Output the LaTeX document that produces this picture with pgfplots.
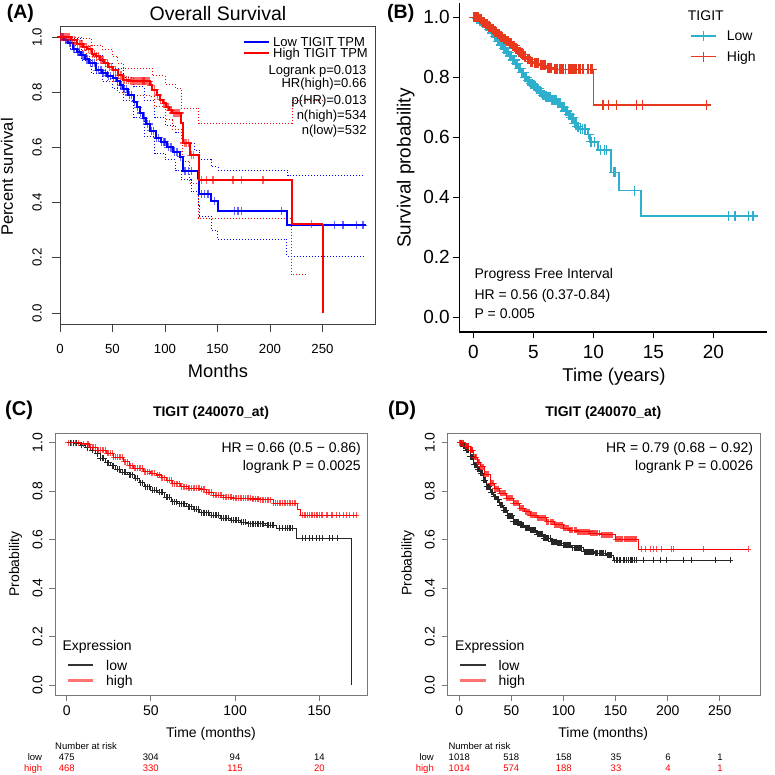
\documentclass[border=0pt]{standalone}
\usepackage{fontspec}
\setmainfont{Liberation Sans}
\usepackage{pgfplots}
\pgfplotsset{compat=1.18}
\newcommand{\fs}[1]{\fontsize{#1}{#1}\selectfont}
\definecolor{gBlue}{RGB}{0,0,255}
\definecolor{gRed}{RGB}{255,0,0}
\definecolor{tcyan}{RGB}{45,176,205}
\definecolor{tred}{RGB}{232,56,30}
\definecolor{boxgray}{RGB}{120,120,120}
\pgfplotsset{
  kmblack/.style={only marks, mark=+, mark size=3pt, black!85, mark options={line width=0.8pt}},
  kmred/.style={only marks, mark=+, mark size=3pt, gRed, mark options={line width=0.8pt, opacity=0.7}},
  tcgaLow/.style={only marks, mark=+, mark size=5pt, tcyan, mark options={line width=1.2pt}},
  tcgaHigh/.style={only marks, mark=+, mark size=5pt, tred, mark options={line width=1.2pt}},
}
\begin{document}
\begin{tikzpicture}
\useasboundingbox (0,0) rectangle (775pt,774pt);

% ---------------- (A) GEPIA overall survival
\begin{axis}[
  at={(60pt,450pt)}, anchor=south west, scale only axis,
  width=315pt, height=298pt,
  xmin=0, xmax=300, ymin=-0.04, ymax=1.04,
  xtick={0,50,100,150,200,250}, xticklabels={0,50,100,150,200,250},
  ytick={0,0.2,0.4,0.6,0.8,1}, yticklabels={0.0,0.2,0.4,0.6,0.8,1.0},
  tick pos=left, tick align=outside, major tick length=8pt,
  axis line style={black!75, line width=0.9pt},
  tick style={black!75, line width=0.9pt},
  ticklabel style={font=\fs{13.2}, inner sep=0pt},
  xticklabel style={anchor=north}, xticklabel shift=12pt,
  yticklabel style={rotate=90, anchor=south}, yticklabel shift=10pt,
]
% confidence bands
\addplot[const plot, gBlue, line width=0.8pt, dash pattern=on 1pt off 2pt] coordinates {
(0,1.0)(10,0.995)(20,0.965)(30,0.935)(40,0.905)(50,0.885)(60,0.855)(70,0.82)(80,0.77)(90,0.71)
(100,0.68)(110,0.655)(117,0.616)(128,0.59)(133,0.555)(144,0.53)(150.5,0.517)(217,0.497)(290,0.497)};
\addplot[const plot, gBlue, line width=0.8pt, dash pattern=on 1pt off 2pt] coordinates {
(0,1.0)(10,0.955)(20,0.915)(30,0.87)(40,0.84)(50,0.815)(60,0.77)(70,0.71)(80,0.64)(90,0.58)
(100,0.555)(110,0.515)(115.6,0.483)(125,0.44)(132,0.39)(133,0.35)(144,0.30)(149.5,0.268)(216,0.205)(290,0.205)};
\addplot[const plot, gRed, line width=0.8pt, dash pattern=on 1pt off 2pt] coordinates {
(0,1.0)(20,0.995)(30,0.97)(40,0.955)(50,0.93)(55,0.905)(60,0.888)(82,0.888)(88,0.86)(100,0.83)
(110,0.815)(115.6,0.743)(132,0.686)(221,0.77)(250,0.77)};
\addplot[const plot, gRed, line width=0.8pt, dash pattern=on 1pt off 2pt] coordinates {
(0,1.0)(15,0.95)(25,0.93)(35,0.88)(45,0.84)(55,0.80)(65,0.79)(85,0.785)(90,0.75)(100,0.70)
(107,0.665)(115.6,0.63)(117,0.55)(123.5,0.471)(131.4,0.344)(220.3,0.139)(234.6,0.139)};
% survival curves
\addplot[const plot, gBlue, line width=2pt] coordinates {
(0,1.0)(4,0.99)(8,0.98)(12,0.955)(16,0.945)(20,0.935)(24,0.92)(28,0.905)(34,0.88)(40,0.87)
(45,0.86)(50,0.85)(54,0.84)(57,0.825)(60,0.81)(65,0.79)(70,0.765)(73,0.745)(76,0.725)(79,0.705)
(82,0.685)(86,0.66)(91,0.635)(96,0.62)(102,0.60)(108,0.585)(114,0.567)(117,0.513)(131.5,0.489)
(132.5,0.43)(144,0.404)(150.5,0.371)(216.5,0.318)(291,0.318)};
\addplot[only marks, mark=+, mark size=4pt, gBlue, mark options={line width=1.2pt, opacity=0.6}] coordinates {
(1,1)(2,1)(3,1)(5,0.99)(6,0.99)(9,0.98)(10,0.98)(13,0.955)(14,0.955)(17,0.945)(18,0.945)(21,0.935)
(22,0.935)(25,0.92)(26,0.92)(29,0.905)(31,0.905)(33,0.905)(35,0.88)(37,0.88)(39,0.88)(41,0.87)
(43,0.87)(46,0.86)(48,0.86)(51,0.85)(53,0.85)(55,0.84)(58,0.825)(61,0.81)(63,0.81)(66,0.79)
(68,0.79)(71,0.765)(74,0.745)(77,0.725)(80,0.705)(83,0.685)(85,0.685)(87,0.66)(89,0.66)(92,0.635)
(94,0.635)(97,0.62)(99,0.62)(100,0.62)(103,0.60)(105,0.60)(106,0.60)(109,0.585)(111,0.585)
(112,0.585)(115,0.567)(119,0.513)(122,0.513)(125,0.513)(134.7,0.43)(137.8,0.43)(141,0.43)
(147.3,0.404)(166.4,0.371)(169.5,0.371)(172.7,0.371)(210.8,0.371)(261.6,0.318)(269.5,0.318)
(282.3,0.318)(288.6,0.318)};
\addplot[const plot, gRed, line width=2pt] coordinates {
(0,1.0)(10,0.99)(16,0.975)(22,0.965)(26,0.955)(30,0.94)(34,0.93)(38,0.918)(42,0.905)(46,0.893)
(50,0.881)(55,0.862)(60,0.845)(66,0.84)(86,0.825)(88,0.809)(92,0.79)(95,0.773)(98,0.76)(101,0.745)
(104,0.735)(107,0.725)(115.5,0.688)(117,0.616)(123.5,0.571)(132,0.483)(221,0.322)(250,0.322)};
\addplot[gRed, line width=2pt] coordinates {(250,0.322)(250,0)};
\addplot[only marks, mark=+, mark size=4pt, gRed, mark options={line width=1.2pt, opacity=0.6}] coordinates {
(0.5,1)(1,1)(2,1)(3,1)(4,1)(5,1)(6,1)(7,1)(8,1)(9,1)(11,0.99)(12,0.99)(14,0.99)(17,0.975)
(19,0.975)(21,0.975)(23,0.965)(25,0.965)(27,0.955)(29,0.955)(31,0.94)(33,0.94)(35,0.93)(37,0.93)
(39,0.918)(41,0.918)(43,0.905)(45,0.905)(47,0.893)(49,0.893)(51,0.881)(53,0.881)(56,0.862)
(58,0.862)(61,0.845)(63,0.845)(65,0.845)(67,0.84)(68,0.84)(69,0.84)(70,0.84)(71,0.84)(72,0.84)
(73,0.84)(74,0.84)(75,0.84)(76,0.84)(77,0.84)(78,0.84)(79,0.84)(80,0.84)(81,0.84)(82,0.84)
(83,0.84)(84,0.84)(85,0.84)(87,0.825)(90,0.809)(93,0.79)(96,0.773)(99,0.76)(102,0.745)(103,0.745)
(105,0.735)(106,0.735)(108,0.725)(109,0.725)(110,0.725)(111,0.725)(112,0.725)(113,0.725)
(114,0.725)(118.5,0.616)(120,0.616)(122,0.616)(125,0.571)(127,0.571)(134.7,0.483)(139.4,0.483)
(145.7,0.483)(164.8,0.483)(172.8,0.483)(193.3,0.483)(239.4,0.322)};
\end{axis}

% ---------------- (B) progress free interval
\begin{axis}[
  at={(459.3pt,442pt)}, anchor=south west, scale only axis,
  width=307.7pt, height=328.7pt,
  xmin=-1.17, xmax=24.47, ymin=-0.049, ymax=1.047,
  axis x line*=bottom, axis y line*=left,
  xtick={0,5,10,15,20}, xticklabels={0,5,10,15,20},
  ytick={0,0.2,0.4,0.6,0.8,1}, yticklabels={0.0,0.2,0.4,0.6,0.8,1.0},
  tick align=outside, major tick length=6pt,
  axis line style={black, line width=1.1pt},
  tick style={black, line width=1.1pt},
  ticklabel style={font=\fs{19}, inner sep=0pt},
  xticklabel style={anchor=north}, xticklabel shift=7pt,
  yticklabel style={anchor=east}, yticklabel shift=3.3pt,
]
\addplot[const plot, tcyan, line width=1.5pt] coordinates {
(0,1.0)(0.25,0.995)(0.5,0.988)(0.75,0.98)(1.0,0.97)(1.25,0.96)(1.5,0.948)(1.75,0.935)(2.0,0.92)
(2.25,0.908)(2.5,0.896)(2.75,0.884)(3.0,0.871)(3.25,0.858)(3.5,0.845)(3.75,0.83)(4.0,0.815)
(4.25,0.80)(4.5,0.789)(4.75,0.779)(5.0,0.77)(5.25,0.762)(5.5,0.752)(5.75,0.74)(6.0,0.733)
(6.5,0.725)(7.0,0.715)(7.3,0.70)(7.6,0.688)(7.9,0.675)(8.1,0.665)(8.33,0.647)(8.6,0.635)
(8.8,0.628)(9.5,0.61)(9.7,0.585)(10.4,0.558)(11.45,0.483)(12.15,0.422)(13.95,0.338)(23.75,0.338)};
\addplot[tcgaLow] coordinates {
(0.1,1)(0.2,1)(0.3,0.995)(0.4,0.995)(0.6,0.988)(0.7,0.988)(0.85,0.98)(0.95,0.98)(1.1,0.97)
(1.2,0.97)(1.35,0.96)(1.45,0.96)(1.6,0.948)(1.7,0.948)(1.85,0.935)(1.95,0.935)(2.1,0.92)(2.2,0.92)
(2.35,0.908)(2.45,0.908)(2.6,0.896)(2.7,0.896)(2.85,0.884)(2.95,0.884)(3.1,0.871)(3.2,0.871)
(3.35,0.858)(3.45,0.858)(3.6,0.845)(3.7,0.845)(3.85,0.83)(3.95,0.83)(4.1,0.815)(4.2,0.815)
(4.35,0.80)(4.45,0.80)(4.6,0.789)(4.7,0.789)(4.85,0.779)(4.95,0.779)(5.1,0.77)(5.2,0.77)
(5.35,0.762)(5.45,0.762)(5.6,0.752)(5.7,0.752)(5.85,0.74)(5.95,0.74)(6.1,0.733)(6.3,0.733)
(6.6,0.725)(6.8,0.725)(7.1,0.715)(7.2,0.715)(7.4,0.70)(7.5,0.70)(7.7,0.688)(8.0,0.675)(8.2,0.665)
(8.45,0.647)(8.5,0.647)(8.7,0.635)(8.9,0.628)(9.1,0.628)(9.3,0.628)(9.6,0.61)(9.8,0.585)
(10.1,0.585)(10.6,0.558)(10.9,0.558)(11.1,0.558)(11.7,0.483)(11.8,0.483)(13.4,0.422)
(21.25,0.338)(21.8,0.338)(22.9,0.338)(23.3,0.338)};
\addplot[tcgaLow] coordinates {
(0.05,1)(0.15,1)(0.35,0.995)(0.55,0.988)(0.65,0.988)(0.8,0.98)(0.9,0.98)(1.05,0.97)(1.15,0.97)
(1.3,0.96)(1.4,0.96)(1.55,0.948)(1.65,0.948)(1.8,0.935)(1.9,0.935)(2.05,0.92)(2.15,0.92)(2.3,0.908)
(2.4,0.908)(2.55,0.896)(2.65,0.896)(2.8,0.884)(2.9,0.884)(3.05,0.871)(3.15,0.871)(3.3,0.858)
(3.4,0.858)(3.55,0.845)(3.65,0.845)(3.8,0.83)(3.9,0.83)(4.05,0.815)(4.15,0.815)(4.3,0.80)(4.4,0.80)
(4.55,0.789)(4.65,0.789)(4.8,0.779)(4.9,0.779)(5.05,0.77)(5.15,0.77)(5.3,0.762)(5.4,0.762)
(5.55,0.752)(5.65,0.752)(5.8,0.74)(5.9,0.74)(6.05,0.733)(6.2,0.733)(6.4,0.733)(6.55,0.725)
(6.7,0.725)(6.9,0.725)(7.05,0.715)(7.25,0.715)(7.35,0.70)(7.55,0.70)(7.65,0.688)(7.8,0.688)
(7.95,0.675)(8.05,0.675)(8.15,0.665)(8.3,0.665)(8.4,0.647)(8.55,0.647)(8.65,0.635)(8.75,0.635)};
\addplot[const plot, tred, line width=1.5pt] coordinates {
(0,1.0)(0.5,0.993)(0.75,0.985)(1.0,0.977)(1.25,0.968)(1.5,0.96)(1.75,0.952)(2.0,0.944)(2.25,0.936)
(2.5,0.928)(2.75,0.92)(3.0,0.913)(3.25,0.905)(3.5,0.895)(3.75,0.885)(4.0,0.877)(4.25,0.868)
(4.45,0.86)(4.75,0.852)(5.0,0.847)(5.5,0.84)(6.1,0.832)(6.67,0.827)(10.0,0.708)(19.7,0.708)};
\addplot[tcgaHigh] coordinates {
(0.1,1)(0.2,1)(0.3,1)(0.4,1)(0.6,0.993)(0.7,0.993)(0.85,0.985)(0.95,0.985)(1.1,0.977)(1.2,0.977)
(1.35,0.968)(1.45,0.968)(1.6,0.96)(1.7,0.96)(1.85,0.952)(1.95,0.952)(2.1,0.944)(2.2,0.944)
(2.35,0.936)(2.45,0.936)(2.6,0.928)(2.7,0.928)(2.85,0.92)(2.95,0.92)(3.1,0.913)(3.2,0.913)
(3.35,0.905)(3.45,0.905)(3.6,0.895)(3.7,0.895)(3.85,0.885)(3.95,0.885)(4.1,0.877)(4.2,0.877)
(4.35,0.868)(4.55,0.86)(4.65,0.86)(4.85,0.852)(5.1,0.847)(5.3,0.847)(5.6,0.84)(5.8,0.84)
(6.2,0.832)(6.4,0.832)(6.8,0.827)(7.0,0.827)(7.3,0.827)(7.5,0.827)(7.7,0.827)(8.1,0.827)
(8.3,0.827)(8.6,0.827)(8.9,0.827)(9.1,0.827)(9.5,0.827)(9.8,0.827)(10.8,0.708)(11.25,0.708)
(11.9,0.708)(13.6,0.708)(14.1,0.708)(19.4,0.708)};
\addplot[tcgaHigh] coordinates {
(0.05,1)(0.15,1)(0.25,1)(0.35,1)(0.45,1)(0.55,0.993)(0.65,0.993)(0.8,0.985)(0.9,0.985)(1.05,0.977)
(1.15,0.977)(1.3,0.968)(1.4,0.968)(1.55,0.96)(1.65,0.96)(1.8,0.952)(1.9,0.952)(2.05,0.944)
(2.15,0.944)(2.3,0.936)(2.4,0.936)(2.55,0.928)(2.65,0.928)(2.8,0.92)(2.9,0.92)(3.05,0.913)
(3.15,0.913)(3.3,0.905)(3.4,0.905)(3.55,0.895)(3.65,0.895)(3.8,0.885)(3.9,0.885)(4.05,0.877)
(4.15,0.877)(4.3,0.868)(4.5,0.86)(4.7,0.86)(4.8,0.852)(4.9,0.852)(5.2,0.847)(5.4,0.847)(5.7,0.84)
(5.9,0.84)(6.0,0.84)(6.3,0.832)(6.5,0.832)(6.9,0.827)(7.2,0.827)(7.4,0.827)(7.9,0.827)(8.0,0.827)
(8.2,0.827)(8.4,0.827)(8.5,0.827)(8.8,0.827)(9.2,0.827)(9.6,0.827)(9.9,0.827)};
\end{axis}

% ---------------- (C) KM plotter
\begin{axis}[
  at={(55pt,79pt)}, anchor=south west, scale only axis,
  width=312pt, height=262pt,
  xmin=-6.95, xmax=178.3, ymin=-0.041, ymax=1.04,
  xtick={0,50,100,150}, xticklabels={0,50,100,150},
  ytick={0,0.2,0.4,0.6,0.8,1}, yticklabels={0.0,0.2,0.4,0.6,0.8,1.0},
  tick pos=left, tick align=outside, major tick length=6pt,
  axis line style={boxgray, line width=0.9pt},
  tick style={boxgray, line width=0.9pt},
  ticklabel style={font=\fs{14}, inner sep=0pt},
  xticklabel style={anchor=north}, xticklabel shift=5pt,
  yticklabel style={rotate=90, anchor=south}, yticklabel shift=6.3pt,
]
\addplot[const plot, black!85, line width=0.9pt] coordinates {
(0,1.0)(5,0.998)(8,0.99)(11,0.98)(14,0.968)(17,0.955)(20,0.935)(23,0.918)(26,0.905)(29,0.89)
(32,0.878)(36,0.868)(40,0.853)(43,0.835)(46,0.818)(50,0.805)(54,0.795)(58,0.775)(62,0.757)
(66,0.748)(71,0.736)(75,0.725)(79,0.711)(85,0.70)(91,0.688)(97,0.68)(103,0.672)(107,0.665)
(118,0.66)(124.7,0.647)(136.2,0.605)(169.2,0.605)};
\addplot[black!85, line width=0.9pt] coordinates {(169.2,0.605)(169.2,0)};
\addplot[kmblack] coordinates {
(2,1)(4,1)(6,0.998)(9,0.99)(12,0.98)(15,0.968)(18,0.955)(21,0.935)(24,0.918)(27,0.905)(30,0.89)
(33,0.878)(35,0.878)(38,0.868)(41,0.853)(44,0.835)(47,0.818)(49,0.818)(52,0.805)(55,0.795)
(57,0.795)(60,0.775)(63,0.757)(65,0.757)(68,0.748)(70,0.748)(73,0.736)(76,0.725)(78,0.725)
(81,0.711)(84,0.711)(87,0.70)(90,0.70)(93,0.688)(95,0.688)(98,0.68)(100,0.68)(102,0.68)
(105,0.672)(108,0.665)(110,0.665)(112,0.665)(114,0.665)(116,0.665)(120,0.66)(122,0.66)
(128,0.647)(130,0.647)(132,0.647)(134,0.647)(140,0.605)(142,0.605)(144,0.605)(146,0.605)
(148,0.605)(150,0.605)(152,0.605)(156,0.605)(158,0.605)(161,0.605)};
\addplot[kmblack] coordinates {
(20,0.935)(22,0.935)(25,0.918)(28,0.905)(31,0.89)(34,0.878)(37,0.868)(39,0.868)(42,0.853)
(45,0.835)(48,0.818)(51,0.805)(53,0.805)(56,0.795)(59,0.775)(61,0.775)(64,0.757)(67,0.748)
(69,0.748)(72,0.736)(74,0.736)(77,0.725)(80,0.711)(82,0.711)(83,0.711)(86,0.70)(88,0.70)
(89,0.70)(92,0.688)(94,0.688)(96,0.688)(99,0.68)(101,0.68)(104,0.672)(106,0.672)(109,0.665)
(111,0.665)(113,0.665)(115,0.665)(117,0.665)(119,0.66)(121,0.66)(123,0.66)(126,0.647)
(131,0.647)(133,0.647)};
\addplot[const plot, gRed, line width=0.9pt] coordinates {
(0,1.0)(8,0.995)(13.8,0.981)(18,0.97)(23.7,0.956)(28,0.94)(33.6,0.922)(37,0.905)(39.5,0.894)
(45.5,0.88)(50,0.875)(53.4,0.867)(56,0.855)(59.4,0.846)(63,0.83)(67.3,0.818)(72,0.812)
(79.2,0.808)(83,0.795)(87.1,0.784)(93,0.775)(98.9,0.770)(110,0.768)(114.8,0.765)(122.7,0.75)
(137,0.725)(138.5,0.70)(172.5,0.70)};
\addplot[kmred] coordinates {
(1,1)(3,1)(5,1)(7,1)(10,0.995)(12,0.995)(15,0.981)(17,0.981)(20,0.97)(22,0.97)(25,0.956)
(27,0.956)(30,0.94)(32,0.94)(35,0.922)(38,0.905)(41,0.894)(43,0.894)(46,0.88)(48,0.88)(51,0.875)
(55,0.867)(57,0.855)(61,0.846)(64,0.83)(66,0.83)(69,0.818)(71,0.818)(74,0.812)(76,0.812)
(78,0.812)(80,0.808)(82,0.808)(85,0.795)(88,0.784)(90,0.784)(92,0.784)(95,0.775)(97,0.775)
(100,0.770)(102,0.770)(104,0.770)(106,0.770)(108,0.770)(111,0.768)(113,0.768)(116,0.765)
(118,0.765)(120,0.765)(124,0.75)(126,0.75)(128,0.75)(130,0.75)(132,0.75)(134,0.75)(136,0.75)
(140,0.70)(142,0.70)(145,0.70)(147,0.70)(150,0.70)(152,0.70)(155,0.70)(158,0.70)(160,0.70)
(164,0.70)(166,0.70)(168,0.70)(172,0.70)};
\addplot[kmred] coordinates {
(13,0.995)(14,0.981)(16,0.981)(18,0.97)(19,0.97)(21,0.97)(23,0.97)(24,0.956)(26,0.956)(28,0.94)
(29,0.94)(31,0.94)(33,0.94)(34,0.922)(36,0.922)(37,0.905)(39,0.905)(40,0.894)(42,0.894)(44,0.894)
(45,0.894)(47,0.88)(49,0.88)(50,0.875)(52,0.875)(54,0.867)(56,0.855)(58,0.855)(60,0.846)
(62,0.846)(63,0.83)(65,0.83)(67,0.83)(68,0.818)(70,0.818)(72,0.812)(73,0.812)(75,0.812)(77,0.812)
(79,0.812)(81,0.808)(83,0.795)(84,0.795)(86,0.795)(87,0.784)(89,0.784)(91,0.784)(93,0.775)
(94,0.775)(96,0.775)(98,0.775)(99,0.770)(101,0.770)(103,0.770)(105,0.770)(107,0.770)(109,0.770)
(110,0.768)(112,0.768)(114,0.768)(115,0.765)(117,0.765)(119,0.765)(121,0.765)(123,0.75)
(125,0.75)(127,0.75)(129,0.75)(131,0.75)(133,0.75)(135,0.75)(141,0.70)(143,0.70)(144,0.70)
(146,0.70)(148,0.70)(149,0.70)(151,0.70)(154,0.70)(157,0.70)(162,0.70)(170,0.70)};
\end{axis}

% ---------------- (D) KM plotter
\begin{axis}[
  at={(447.7pt,79pt)}, anchor=south west, scale only axis,
  width=312.3pt, height=262pt,
  xmin=-11.1, xmax=288.6, ymin=-0.041, ymax=1.04,
  xtick={0,50,100,150,200,250}, xticklabels={0,50,100,150,200,250},
  ytick={0,0.2,0.4,0.6,0.8,1}, yticklabels={0.0,0.2,0.4,0.6,0.8,1.0},
  tick pos=left, tick align=outside, major tick length=6pt,
  axis line style={boxgray, line width=0.9pt},
  tick style={boxgray, line width=0.9pt},
  ticklabel style={font=\fs{14}, inner sep=0pt},
  xticklabel style={anchor=north}, xticklabel shift=5pt,
  yticklabel style={rotate=90, anchor=south}, yticklabel shift=6.7pt,
]
\addplot[const plot, black!85, line width=0.9pt] coordinates {
(0,1.0)(3,0.985)(6,0.97)(10.3,0.942)(14,0.91)(17,0.89)(19.9,0.874)(23,0.845)(26.3,0.818)
(30,0.795)(33,0.778)(35.9,0.764)(39,0.742)(42.2,0.722)(46,0.698)(51.8,0.674)(58,0.66)(63,0.65)
(67.9,0.64)(74,0.622)(80.6,0.605)(88,0.592)(94,0.585)(99.8,0.578)(108,0.566)(119,0.55)
(130,0.545)(141.5,0.536)(147.8,0.516)(261.4,0.516)};
\addplot[kmblack] coordinates {
(1,1)(2,1)(4,0.985)(5,0.985)(7,0.97)(8,0.97)(9,0.97)(11,0.942)(12,0.942)(13,0.942)(15,0.91)
(16,0.91)(18,0.89)(19,0.89)(21,0.874)(22,0.874)(24,0.845)(25,0.845)(27,0.818)(29,0.818)(31,0.795)
(32,0.795)(34,0.778)(35,0.778)(37,0.764)(38,0.764)(40,0.742)(41,0.742)(43,0.722)(45,0.722)
(47,0.698)(49,0.698)(51,0.698)(53,0.674)(55,0.674)(57,0.674)(59,0.66)(61,0.66)(64,0.65)(66,0.65)
(69,0.64)(71,0.64)(73,0.64)(75,0.622)(77,0.622)(79,0.622)(82,0.605)(84,0.605)(86,0.605)
(89,0.592)(91,0.592)(93,0.592)(95,0.585)(97,0.585)(101,0.578)(103,0.578)(105,0.578)(107,0.578)
(110,0.566)(112,0.566)(114,0.566)(116,0.566)(120,0.55)(122,0.55)(124,0.55)(126,0.55)(128,0.55)
(131,0.545)(133,0.545)(135,0.545)(138,0.545)(142,0.536)(144,0.536)(146,0.536)(151,0.516)
(154,0.516)(157.4,0.516)(160,0.516)(163.8,0.516)(166,0.516)(170.2,0.516)(176.6,0.516)
(186.2,0.516)(192.6,0.516)(199,0.516)(215,0.516)(223,0.516)(246,0.516)(260,0.516)};
\addplot[kmblack] coordinates {
(1.5,1)(3.5,0.985)(6.5,0.97)(10.5,0.942)(14.5,0.91)(17.5,0.89)(20.5,0.874)(23.5,0.845)
(26.5,0.818)(28,0.818)(30.5,0.795)(33.5,0.778)(36.5,0.764)(39.5,0.742)(42.5,0.722)(44,0.722)
(46.5,0.698)(48,0.698)(50,0.698)(52,0.674)(54,0.674)(56,0.674)(58.5,0.66)(60,0.66)(62,0.66)
(63.5,0.65)(65,0.65)(67,0.65)(68.5,0.64)(70,0.64)(72,0.64)(74.5,0.622)(76,0.622)(78,0.622)
(80,0.622)(81,0.605)(83,0.605)(85,0.605)(87,0.605)(88.5,0.592)(90,0.592)(92,0.592)(94.5,0.585)
(96,0.585)(98,0.585)(100,0.578)(102,0.578)(104,0.578)(106,0.578)(109,0.566)(111,0.566)(113,0.566)
(115,0.566)(117,0.566)(121,0.55)(123,0.55)(125,0.55)(127,0.55)(129,0.55)(132,0.545)(134,0.545)
(136,0.545)(137,0.545)(140,0.545)(143,0.536)(145,0.536)(149,0.516)(152,0.516)(155,0.516)
(158.5,0.516)(162,0.516)(165,0.516)(168,0.516)};
\addplot[const plot, gRed, line width=0.9pt] coordinates {
(0,1.0)(5,0.985)(10.3,0.97)(14,0.94)(17,0.92)(19.9,0.901)(24,0.87)(29.5,0.832)(34,0.81)
(39,0.791)(45,0.77)(51.8,0.75)(58,0.73)(63,0.715)(67.9,0.70)(75,0.69)(83.9,0.674)(91,0.662)
(99.8,0.647)(106,0.64)(112.7,0.633)(125.4,0.626)(135,0.62)(149.5,0.601)(171.8,0.56)(277.4,0.56)};
\addplot[kmred] coordinates {
(1,1)(2,1)(3,1)(4,1)(6,0.985)(7,0.985)(8,0.985)(9,0.985)(11,0.97)(12,0.97)(13,0.97)(15,0.94)
(16,0.94)(18,0.92)(19,0.92)(21,0.901)(22,0.901)(23,0.901)(25,0.87)(27,0.87)(28,0.87)(31,0.832)
(33,0.832)(35,0.81)(37,0.81)(40,0.791)(42,0.791)(44,0.791)(46,0.77)(48,0.77)(50,0.77)(53,0.75)
(55,0.75)(57,0.75)(59,0.73)(61,0.73)(64,0.715)(66,0.715)(69,0.70)(71,0.70)(73,0.70)(76,0.69)
(78,0.69)(80,0.69)(82,0.69)(85,0.674)(87,0.674)(89,0.674)(92,0.662)(94,0.662)(96,0.662)
(98,0.662)(101,0.647)(103,0.647)(105,0.647)(107,0.64)(109,0.64)(111,0.64)(114,0.633)(116,0.633)
(118,0.633)(120,0.633)(122,0.633)(124,0.633)(127,0.626)(129,0.626)(131,0.626)(133,0.626)
(136,0.62)(138,0.62)(140,0.62)(142,0.62)(144,0.62)(146,0.62)(151,0.601)(153,0.601)(156,0.601)
(158,0.601)(161,0.601)(164,0.601)(167,0.601)(170,0.601)(175,0.56)(178.3,0.56)(183.1,0.56)
(186.2,0.56)(189.4,0.56)(194.2,0.56)(203.8,0.56)(205.4,0.56)(234.2,0.56)(277.4,0.56)};
\addplot[kmred] coordinates {
(0.5,1)(1.5,1)(2.5,1)(3.5,1)(5.5,0.985)(6.5,0.985)(7.5,0.985)(8.5,0.985)(10.5,0.97)(11.5,0.97)
(12.5,0.97)(14.5,0.94)(15.5,0.94)(17.5,0.92)(18.5,0.92)(20,0.901)(24,0.87)(26,0.87)(29.5,0.832)
(30,0.832)(32,0.832)(34,0.81)(36,0.81)(38,0.81)(39,0.791)(41,0.791)(43,0.791)(45,0.77)(47,0.77)
(49,0.77)(51,0.77)(52,0.75)(54,0.75)(56,0.75)(58,0.73)(60,0.73)(62,0.73)(63,0.715)(65,0.715)
(67,0.715)(68,0.70)(70,0.70)(72,0.70)(74,0.70)(75,0.69)(77,0.69)(79,0.69)(81,0.69)(83,0.69)
(84,0.674)(86,0.674)(88,0.674)(90,0.674)(91,0.662)(93,0.662)(95,0.662)(97,0.662)(99,0.662)
(100,0.647)(102,0.647)(104,0.647)(106,0.64)(108,0.64)(110,0.64)(112,0.64)(113,0.633)(115,0.633)
(117,0.633)(119,0.633)(121,0.633)(123,0.633)(125,0.633)(126,0.626)(128,0.626)(130,0.626)
(132,0.626)(134,0.626)(137,0.62)(139,0.62)(141,0.62)(143,0.62)(145,0.62)(147,0.62)(150,0.601)
(152,0.601)(154,0.601)(155,0.601)(157,0.601)(159,0.601)(160,0.601)(162,0.601)(163,0.601)
(165,0.601)(166,0.601)(168,0.601)(169,0.601)};
\end{axis}

% ---------------- texts, panel A
\node[anchor=base west, font=\fs{19.5}\bfseries, inner sep=0pt] at (6.7pt,755pt) {(A)};
\node[anchor=base, font=\fs{19.5}, inner sep=0pt] at (218pt,753.5pt) {Overall Survival};
\node[anchor=base, font=\fs{18.3}, inner sep=0pt] at (218pt,396pt) {Months};
\node[anchor=base, rotate=90, font=\fs{16.5}, inner sep=0pt] at (13pt,597pt) {Percent survival};
\draw[gBlue, line width=2pt] (244pt,732.3pt) -- (269pt,732.3pt);
\draw[gRed, line width=2pt] (244pt,721pt) -- (269pt,721pt);
\begin{scope}[every node/.style={font=\fs{13}, inner sep=0pt}]
\node[anchor=base west] at (273pt,727.7pt) {Low TIGIT TPM};
\node[anchor=base west] at (273pt,716.1pt) {High TIGIT TPM};
\node[anchor=base east] at (366.7pt,699.7pt) {Logrank p=0.013};
\node[anchor=base east] at (366.7pt,686pt) {HR(high)=0.66};
\node[anchor=base east] at (366.7pt,669.4pt) {p(HR)=0.013};
\node[anchor=base east] at (366.7pt,654.4pt) {n(high)=534};
\node[anchor=base east] at (366.7pt,639.4pt) {n(low)=532};
\end{scope}

% ---------------- texts, panel B
\node[anchor=base west, font=\fs{19.5}\bfseries, inner sep=0pt] at (387pt,755pt) {(B)};
\node[anchor=base, rotate=90, font=\fs{19}, inner sep=0pt] at (410.5pt,606pt) {Survival probability};
\node[anchor=base, font=\fs{18.5}, inner sep=0pt] at (614pt,392pt) {Time (years)};
\begin{scope}[every node/.style={font=\fs{14}, inner sep=0pt}]
\node[anchor=base west] at (687.7pt,753pt) {TIGIT};
\node[anchor=base west] at (726.7pt,733pt) {Low};
\node[anchor=base west] at (726.7pt,712.3pt) {High};
\node[anchor=base west] at (474.3pt,495.3pt) {Progress Free Interval};
\node[anchor=base west] at (474.3pt,474pt) {HR = 0.56 (0.37-0.84)};
\node[anchor=base west] at (474.3pt,455.7pt) {P = 0.005};
\end{scope}
\draw[tcyan, line width=1.5pt] (691pt,738pt) -- (715.7pt,738pt) (703.3pt,733pt) -- (703.3pt,743pt);
\draw[tred, line width=1.5pt] (691pt,717.3pt) -- (715.7pt,717.3pt) (703.3pt,712.3pt) -- (703.3pt,722.3pt);

% ---------------- texts, panels C and D
\node[anchor=base west, font=\fs{20}\bfseries, inner sep=0pt] at (5pt,358pt) {(C)};
\node[anchor=base west, font=\fs{20}\bfseries, inner sep=0pt] at (388pt,358pt) {(D)};
\begin{scope}[every node/.style={font=\fs{14}, inner sep=0pt}]
\node[anchor=base, font=\fs{14}\bfseries] at (211pt,357.3pt) {TIGIT (240070\_at)};
\node[anchor=base, font=\fs{14}\bfseries] at (603.3pt,357.3pt) {TIGIT (240070\_at)};
\node[anchor=base] at (211pt,36.7pt) {Time (months)};
\node[anchor=base] at (603.3pt,36.7pt) {Time (months)};
\node[anchor=base, rotate=90] at (19pt,210pt) {Probability};
\node[anchor=base, rotate=90] at (411.5pt,211pt) {Probability};
\node[anchor=base east] at (361pt,321.3pt) {HR = 0.66 (0.5 − 0.86)};
\node[anchor=base east] at (361pt,304pt) {logrank P = 0.0025};
\node[anchor=base east] at (753.3pt,321.3pt) {HR = 0.79 (0.68 − 0.92)};
\node[anchor=base east] at (753.3pt,304pt) {logrank P = 0.0026};
\node[anchor=base west] at (62.3pt,124pt) {Expression};
\node[anchor=base west] at (106pt,104pt) {low};
\node[anchor=base west] at (106pt,88.3pt) {high};
\node[anchor=base west] at (455pt,124pt) {Expression};
\node[anchor=base west] at (498.3pt,104pt) {low};
\node[anchor=base west] at (498.3pt,88.3pt) {high};
\end{scope}
\draw[black!80, line width=1.2pt] (68pt,109pt) -- (93pt,109pt);
\draw[gRed!55, line width=2.5pt] (68pt,93.3pt) -- (93pt,93.3pt);
\draw[black!80, line width=1.2pt] (460pt,109pt) -- (486pt,109pt);
\draw[gRed!55, line width=2.5pt] (460pt,93.3pt) -- (486pt,93.3pt);

% number at risk
\begin{scope}[every node/.style={font=\fs{9.5}, inner sep=0pt}]
\node[anchor=base west] at (55pt,24.6pt) {Number at risk};
\node[anchor=base east] at (42.3pt,13.3pt) {low};
\node[anchor=base east, text=gRed] at (42.3pt,3pt) {high};
\node[anchor=base] at (66.7pt,13.3pt) {475};
\node[anchor=base] at (150.7pt,13.3pt) {304};
\node[anchor=base] at (235pt,13.3pt) {94};
\node[anchor=base] at (319.3pt,13.3pt) {14};
\node[anchor=base, text=gRed] at (66.7pt,3pt) {468};
\node[anchor=base, text=gRed] at (150.7pt,3pt) {330};
\node[anchor=base, text=gRed] at (235pt,3pt) {115};
\node[anchor=base, text=gRed] at (319.3pt,3pt) {20};
\node[anchor=base west] at (448.3pt,24.6pt) {Number at risk};
\node[anchor=base east] at (434pt,13.3pt) {low};
\node[anchor=base east, text=gRed] at (434pt,3pt) {high};
\node[anchor=base] at (459.3pt,13.3pt) {1018};
\node[anchor=base] at (511.3pt,13.3pt) {518};
\node[anchor=base] at (563.7pt,13.3pt) {158};
\node[anchor=base] at (616pt,13.3pt) {35};
\node[anchor=base] at (668pt,13.3pt) {6};
\node[anchor=base] at (720pt,13.3pt) {1};
\node[anchor=base, text=gRed] at (459.3pt,3pt) {1014};
\node[anchor=base, text=gRed] at (511.3pt,3pt) {574};
\node[anchor=base, text=gRed] at (563.7pt,3pt) {188};
\node[anchor=base, text=gRed] at (616pt,3pt) {33};
\node[anchor=base, text=gRed] at (668pt,3pt) {4};
\node[anchor=base, text=gRed] at (720pt,3pt) {1};
\end{scope}
\end{tikzpicture}
\end{document}
